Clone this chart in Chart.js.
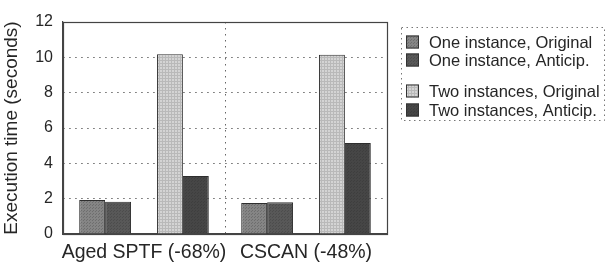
<!DOCTYPE html>
<html>
<head>
<meta charset="utf-8">
<script src="https://cdn.jsdelivr.net/npm/chart.js@4/dist/chart.umd.min.js"></script>
<style>
  html, body { margin: 0; padding: 0; background: #ffffff; }
  #wrap { position: relative; width: 608px; height: 264px; }
</style>
</head>
<body>
<div id="wrap"><canvas id="c" width="608" height="264"></canvas></div>
<script>
// ---- data ----
const categories = ['Aged SPTF (-68%)', 'CSCAN (-48%)'];
const oneInstanceOriginal = [1.92, 1.76];
const oneInstanceAnticip = [1.82, 1.80];
const twoInstancesOriginal = [10.18, 10.14];
const twoInstancesAnticip = [3.28, 5.15];
const seriesLabels = ['One instance, Original', 'One instance, Anticip.', 'Two instances, Original', 'Two instances, Anticip.'];
const yTickValues = [0, 2, 4, 6, 8, 10, 12];

// ---- styling helpers ----
function makePattern(bg, fg, kind) {
  const p = document.createElement('canvas');
  p.width = 3; p.height = 3;
  const g = p.getContext('2d');
  g.fillStyle = bg; g.fillRect(0, 0, 3, 3);
  g.fillStyle = fg;
  if (kind === 'grid') { g.fillRect(0, 0, 3, 1); g.fillRect(0, 0, 1, 3); }
  else if (kind === 'dots') { g.fillRect(0, 0, 1, 1); g.fillRect(2, 1, 1, 1); }
  return document.getElementById('c').getContext('2d').createPattern(p, 'repeat');
}
const fills = [
  makePattern('#858585', '#6e6e6e', 'dots'),
  makePattern('#585858', '#4c4c4c', 'dots'),
  makePattern('#d4d4d4', '#b9b9b9', 'grid'),
  makePattern('#464646', '#3e3e3e', 'dots')
];

const ds = (label, data, i) => ({
  label, data, backgroundColor: fills[i], borderColor: '#2e2e2e', borderWidth: 1, borderSkipped: 'bottom'
});

const FONT = '"Liberation Sans", Arial, sans-serif';

const frameAndLegend = {
  id: 'frameAndLegend',
  afterDraw(chart) {
    const ctx = chart.ctx;
    const a = chart.chartArea;
    ctx.save();
    ctx.strokeStyle = '#444';
    ctx.lineWidth = 1.2;
    ctx.strokeRect(a.left + 0.5, a.top + 0.5, a.right - a.left, a.bottom - a.top);
    ctx.setLineDash([1.5, 3.5]);
    ctx.strokeStyle = '#777';
    ctx.lineWidth = 1;
    ctx.strokeRect(401.5, 27.5, 203, 93);
    ctx.setLineDash([]);
    const rows = [42, 60, 91, 110];
    ctx.font = '16.5px ' + FONT;
    ctx.textBaseline = 'middle';
    rows.forEach((y, i) => {
      ctx.fillStyle = fills[i];
      ctx.fillRect(406, y - 6.5, 13, 13);
      ctx.strokeStyle = '#333';
      ctx.lineWidth = 1;
      ctx.strokeRect(406.5, y - 6, 12, 12);
      ctx.fillStyle = '#262626';
      ctx.fillText(seriesLabels[i], 429, y + 1);
    });
    ctx.restore();
  }
};

new Chart(document.getElementById('c'), {
  type: 'bar',
  data: {
    labels: categories,
    datasets: [
      ds(seriesLabels[0], oneInstanceOriginal, 0),
      ds(seriesLabels[1], oneInstanceAnticip, 1),
      { label: '', data: [null, null], backgroundColor: 'rgba(0,0,0,0)' },
      ds(seriesLabels[2], twoInstancesOriginal, 2),
      ds(seriesLabels[3], twoInstancesAnticip, 3)
    ]
  },
  options: {
    responsive: false,
    animation: false,
    devicePixelRatio: 1,
    layout: { padding: { left: 0, right: 221, top: 22, bottom: 0 } },
    plugins: { legend: { display: false }, tooltip: { enabled: false } },
    datasets: { bar: { categoryPercentage: 0.8, barPercentage: 1.0 } },
    scales: {
      x: {
        afterFit: (s) => { s.height = 30; s.paddingLeft = 0; s.paddingRight = 0; },
        grid: { display: true, offset: true, color: '#666', lineWidth: 1, drawTicks: false },
        border: { display: true, color: '#444', width: 1.2, dash: [1.5, 4.5] },
        ticks: { color: '#262626', padding: 7, maxRotation: 0, minRotation: 0, autoSkip: false, font: { family: FONT, size: 19.5 } }
      },
      y: {
        min: 0, max: 12,
        afterFit: (s) => { s.width = 63; },
        afterBuildTicks: (s) => { s.ticks = yTickValues.map(v => ({ value: v })); },
        grid: { display: true, color: '#666', lineWidth: 1, drawTicks: false },
        border: { display: true, color: '#444', width: 1.2, dash: [1.5, 4.5] },
        ticks: { color: '#262626', padding: 10, font: { family: FONT, size: 16 } },
        title: { display: true, text: 'Execution time (seconds)', color: '#262626', padding: { top: 0, bottom: 0 }, font: { family: FONT, size: 19, weight: 'normal' } }
      }
    }
  },
  plugins: [frameAndLegend]
});
</script>
</body>
</html>
